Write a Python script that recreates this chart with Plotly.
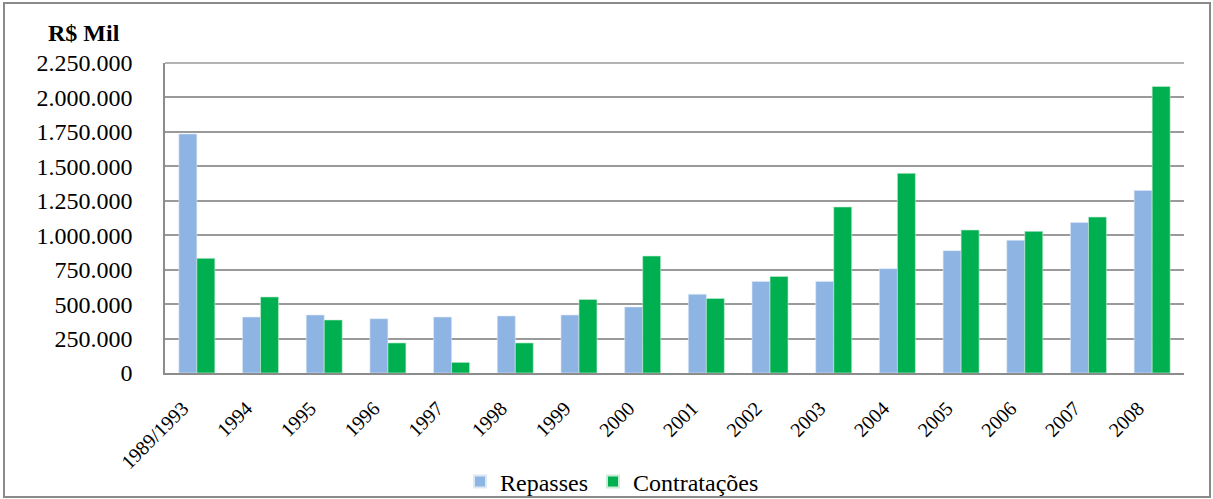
import plotly.graph_objects as go

categories = ["1989/1993", "1994", "1995", "1996", "1997", "1998", "1999", "2000",
              "2001", "2002", "2003", "2004", "2005", "2006", "2007", "2008"]
repasses = [1735000, 406000, 421000, 394000, 406000, 414000, 421000, 479000,
            571000, 665000, 665000, 757000, 888000, 963000, 1093000, 1325000]
contratacoes = [832000, 552000, 385000, 218000, 77000, 218000, 534000, 849000,
                541000, 701000, 1205000, 1449000, 1038000, 1028000, 1132000, 2080000]
ytick_vals = [0, 250000, 500000, 750000, 1000000, 1250000, 1500000, 1750000, 2000000, 2250000]
ytick_text = ["0", "250.000", "500.000", "750.000", "1.000.000", "1.250.000",
              "1.500.000", "1.750.000", "2.000.000", "2.250.000"]

FONT = "'Liberation Serif', 'DejaVu Serif', serif"

fig = go.Figure()
fig.add_trace(go.Bar(x=categories, y=repasses, name="Repasses",
                     marker=dict(color="#8EB4E3", line=dict(color="#dde8f5", width=0.6))))
fig.add_trace(go.Bar(x=categories, y=contratacoes, name="Contratações",
                     marker=dict(color="#00B050", line=dict(color="#c8ecd6", width=0.6))))

L, R, T, B = 165, 29, 63, 126
W, H = 1213, 499
pw, ph = W - L - R, H - T - B

def px(x):
    return (x - L) / pw

def py(y):
    return (H - B - y) / ph

fig.update_layout(
    width=W, height=H,
    margin=dict(l=L, r=R, t=T, b=B, autoexpand=False),
    paper_bgcolor="white", plot_bgcolor="white",
    barmode="group", bargap=0.435, bargroupgap=0,
    font=dict(family=FONT, color="black"),
    showlegend=True,
    legend=dict(orientation="h", x=px(612), y=py(482), xanchor="center", yanchor="middle",
                font=dict(family=FONT, size=24), itemsizing="constant",
                bgcolor="rgba(0,0,0,0)", itemwidth=30, tracegroupgap=0),
    xaxis=dict(showline=True, linecolor="#8c8c8c", linewidth=1.5, ticks="",
               tickangle=-45, tickfont=dict(family=FONT, size=20),
               ticklabelshift=-14, ticklabelstandoff=14,
               showgrid=False, automargin=False),
    yaxis=dict(range=[0, 2250000], tickvals=ytick_vals, ticktext=ytick_text,
               tickfont=dict(family=FONT, size=24), showgrid=True,
               gridcolor="#9a9a9a", gridwidth=1.5, showline=True,
               linecolor="#8c8c8c", linewidth=1.5, ticks="", zeroline=False,
               ticklabelstandoff=26, automargin=False),
    annotations=[dict(text="<b>R$ Mil</b>", xref="paper", yref="paper",
                      x=px(84), y=py(33), xanchor="center", yanchor="middle",
                      showarrow=False, font=dict(family=FONT, size=24, color="black"))],
    shapes=[dict(type="rect", xref="paper", yref="paper",
                 x0=px(4), x1=px(1210), y0=py(497), y1=py(3),
                 line=dict(color="#8a8a8a", width=2), fillcolor="rgba(0,0,0,0)"),
            dict(type="line", xref="paper", yref="paper",
                 x0=0, x1=1, y0=1, y1=1, line=dict(color="#9a9a9a", width=1.5))],
)

fig.write_html("out.html")
